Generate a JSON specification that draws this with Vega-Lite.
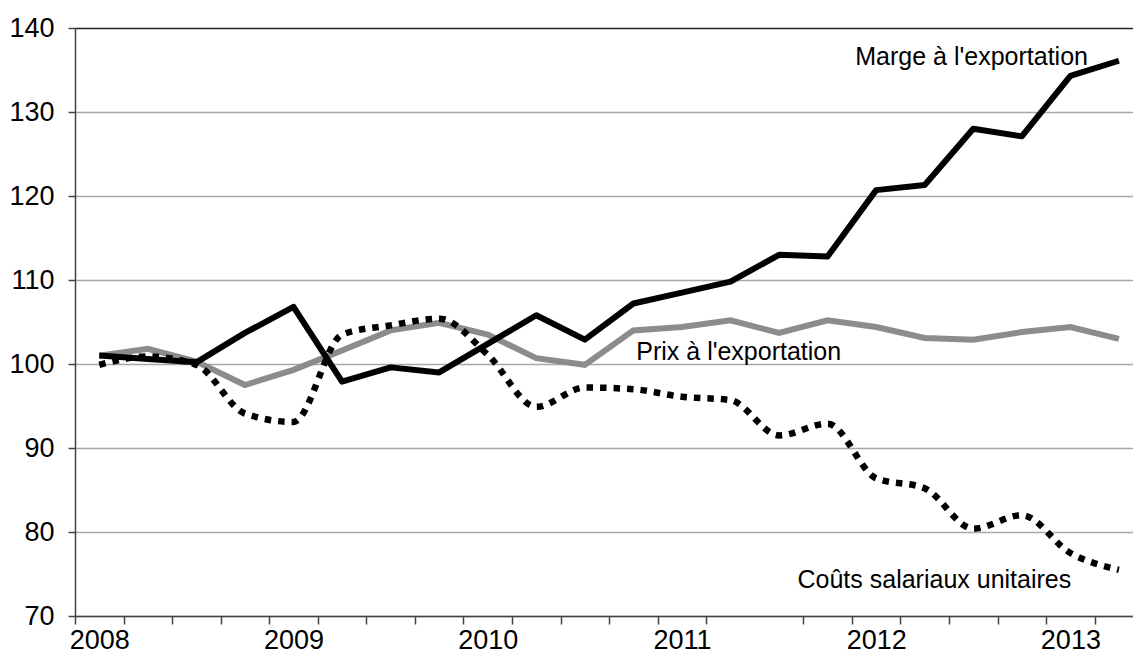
{
  "$schema": "https://vega.github.io/schema/vega-lite/v6.json",
  "width": 1058,
  "height": 588,
  "autosize": "none",
  "padding": {"left": 75, "top": 28, "right": 0, "bottom": 52},
  "background": "white",
  "config": {
    "view": {"stroke": null},
    "font": "Liberation Sans",
    "axis": {"labelFont": "Liberation Sans", "labelColor": "black", "labelFontSize": 27}
  },
  "datasets": {
    "series": [
      {"t": 0, "serie": "Marge", "value": 101.0}, {"t": 1, "serie": "Marge", "value": 100.6}, {"t": 2, "serie": "Marge", "value": 100.2}, {"t": 3, "serie": "Marge", "value": 103.7}, {"t": 4, "serie": "Marge", "value": 106.8}, {"t": 5, "serie": "Marge", "value": 97.9}, {"t": 6, "serie": "Marge", "value": 99.6}, {"t": 7, "serie": "Marge", "value": 99.0}, {"t": 8, "serie": "Marge", "value": 102.4}, {"t": 9, "serie": "Marge", "value": 105.8}, {"t": 10, "serie": "Marge", "value": 102.9}, {"t": 11, "serie": "Marge", "value": 107.2}, {"t": 12, "serie": "Marge", "value": 108.5}, {"t": 13, "serie": "Marge", "value": 109.8}, {"t": 14, "serie": "Marge", "value": 113.0}, {"t": 15, "serie": "Marge", "value": 112.8}, {"t": 16, "serie": "Marge", "value": 120.7}, {"t": 17, "serie": "Marge", "value": 121.3}, {"t": 18, "serie": "Marge", "value": 128.0}, {"t": 19, "serie": "Marge", "value": 127.1}, {"t": 20, "serie": "Marge", "value": 134.3}, {"t": 21, "serie": "Marge", "value": 136.1},
      {"t": 0, "serie": "Prix", "value": 101.0}, {"t": 1, "serie": "Prix", "value": 101.8}, {"t": 2, "serie": "Prix", "value": 100.3}, {"t": 3, "serie": "Prix", "value": 97.5}, {"t": 4, "serie": "Prix", "value": 99.3}, {"t": 5, "serie": "Prix", "value": 101.6}, {"t": 6, "serie": "Prix", "value": 104.0}, {"t": 7, "serie": "Prix", "value": 104.9}, {"t": 8, "serie": "Prix", "value": 103.5}, {"t": 9, "serie": "Prix", "value": 100.7}, {"t": 10, "serie": "Prix", "value": 99.9}, {"t": 11, "serie": "Prix", "value": 104.0}, {"t": 12, "serie": "Prix", "value": 104.4}, {"t": 13, "serie": "Prix", "value": 105.2}, {"t": 14, "serie": "Prix", "value": 103.7}, {"t": 15, "serie": "Prix", "value": 105.2}, {"t": 16, "serie": "Prix", "value": 104.4}, {"t": 17, "serie": "Prix", "value": 103.1}, {"t": 18, "serie": "Prix", "value": 102.9}, {"t": 19, "serie": "Prix", "value": 103.8}, {"t": 20, "serie": "Prix", "value": 104.4}, {"t": 21, "serie": "Prix", "value": 103.0},
      {"t": 0, "serie": "Couts", "value": 99.9}, {"t": 1, "serie": "Couts", "value": 100.9}, {"t": 2, "serie": "Couts", "value": 99.9}, {"t": 3, "serie": "Couts", "value": 94.1}, {"t": 4, "serie": "Couts", "value": 93.1}, {"t": 5, "serie": "Couts", "value": 103.5}, {"t": 6, "serie": "Couts", "value": 104.6}, {"t": 7, "serie": "Couts", "value": 105.4}, {"t": 8, "serie": "Couts", "value": 101.1}, {"t": 9, "serie": "Couts", "value": 94.9}, {"t": 10, "serie": "Couts", "value": 97.2}, {"t": 11, "serie": "Couts", "value": 97.0}, {"t": 12, "serie": "Couts", "value": 96.1}, {"t": 13, "serie": "Couts", "value": 95.7}, {"t": 14, "serie": "Couts", "value": 91.5}, {"t": 15, "serie": "Couts", "value": 92.9}, {"t": 16, "serie": "Couts", "value": 86.4}, {"t": 17, "serie": "Couts", "value": 85.2}, {"t": 18, "serie": "Couts", "value": 80.4}, {"t": 19, "serie": "Couts", "value": 82.0}, {"t": 20, "serie": "Couts", "value": 77.5}, {"t": 21, "serie": "Couts", "value": 75.5}
    ],
    "labels": [
      {"t": 15.57, "value": 136.5, "text": "Marge à l'exportation"},
      {"t": 11.06, "value": 101.4, "text": "Prix à l'exportation"},
      {"t": 14.38, "value": 74.3, "text": "Coûts salariaux unitaires"}
    ]
  },
  "data": {"name": "series"},
  "encoding": {
    "x": {
      "field": "t", "type": "quantitative",
      "scale": {"domain": [-0.5, 21.29], "nice": false, "zero": false},
      "axis": {
        "title": null, "grid": false,
        "values": [-0.5, 0.5, 1.5, 2.5, 3.5, 4.5, 5.5, 6.5, 7.5, 8.5, 9.5, 10.5, 11.5, 12.5, 14.5, 15.5, 16.5, 17.5, 18.5, 19.5, 20.5],
        "labelExpr": "(datum.value + 0.5) % 4 == 0 ? toString(2008 + (datum.value + 0.5) / 4) : ''",
        "labelOffset": 24.3, "labelFlush": false, "labelOverlap": false, "labelBound": false,
        "labelPadding": 3,
        "tickSize": 8, "tickColor": "#444", "tickWidth": 1.5,
        "domainColor": "#444", "domainWidth": 1.5
      }
    },
    "y": {
      "field": "value", "type": "quantitative",
      "scale": {"domain": [70, 140], "nice": false, "zero": false},
      "axis": {
        "title": null, "values": [70, 80, 90, 100, 110, 120, 130, 140],
        "grid": true,
        "gridColor": {"condition": {"test": "datum.value == 140", "value": "#222"}, "value": "#a8a8a8"},
        "gridWidth": 1.5,
        "tickSize": 7, "tickColor": "#444", "tickWidth": 1.5,
        "domainColor": "#444", "domainWidth": 1.5,
        "labelPadding": 14
      }
    }
  },
  "layer": [
    {
      "transform": [{"filter": "datum.serie == 'Prix'"}],
      "mark": {"type": "line", "color": "#8c8c8c", "strokeWidth": 6}
    },
    {
      "transform": [{"filter": "datum.serie == 'Couts'"}],
      "mark": {"type": "line", "color": "black", "strokeWidth": 6.5, "strokeDash": [6.5, 7], "strokeCap": "butt", "interpolate": "monotone"}
    },
    {
      "transform": [{"filter": "datum.serie == 'Marge'"}],
      "mark": {"type": "line", "color": "black", "strokeWidth": 6, "strokeJoin": "round"}
    },
    {
      "data": {"name": "labels"},
      "mark": {"type": "text", "align": "left", "baseline": "middle", "font": "Liberation Sans", "fontSize": 25, "color": "black"},
      "encoding": {"text": {"field": "text"}}
    }
  ]
}
